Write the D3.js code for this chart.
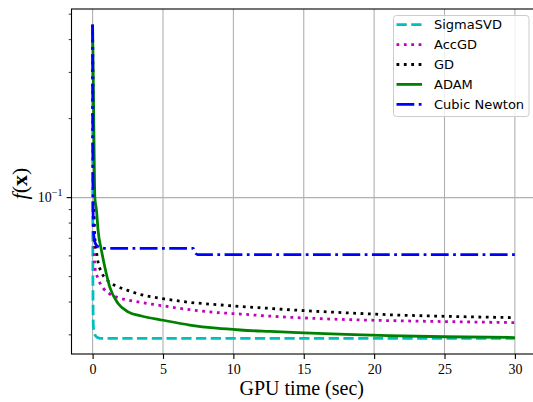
<!DOCTYPE html>
<html>
<head>
<meta charset="utf-8">
<script src="https://cdn.jsdelivr.net/npm/d3@7"></script>
<style>
  html, body { margin: 0; padding: 0; background: #fff; overflow: hidden; }
  svg { display: block; }
</style>
</head>
<body>
<div id="chart"></div>
<script>
// Objective value f(x) against GPU time (seconds) for each solver.
const sigmaTime = [0, 0.02, 0.05, 0.1, 0.2, 0.35, 0.55, 5, 10, 15, 20, 25, 30];
const sigmaVals = [0.456, 0.05, 0.0325, 0.0308, 0.0298, 0.0293, 0.0291, 0.0291, 0.0291, 0.0291, 0.0291, 0.0291, 0.0291];

const accTime = [0, 0.03, 0.08, 0.16, 0.39, 0.75, 1.2, 1.8, 2.5, 3.5, 5, 6.9, 8.8, 10.5, 12.4, 15, 18, 21, 25, 30];
const accVals = [0.456, 0.15, 0.08, 0.0543, 0.0491, 0.0452, 0.0430, 0.0416, 0.0407, 0.0398, 0.0387, 0.0374, 0.0365, 0.0360, 0.0354, 0.0348, 0.0343, 0.0340, 0.0337, 0.0334];

const gdTime = [0, 0.05, 0.1, 0.16, 0.28, 0.39, 0.63, 1.1, 1.7, 2.5, 3.5, 5, 6.9, 8.8, 10.5, 12.4, 15, 18, 21, 25, 30];
const gdVals = [0.456, 0.15, 0.09, 0.0706, 0.0619, 0.0567, 0.0520, 0.0481, 0.0460, 0.0443, 0.0426, 0.0412, 0.0399, 0.0391, 0.0385, 0.0379, 0.0371, 0.0364, 0.0358, 0.0353, 0.0349];

const adamTime = [0, 0.08, 0.16, 0.28, 0.39, 0.63, 0.87, 1.22, 1.81, 2.52, 3.47, 5, 6.9, 8.8, 10.5, 12.6, 15, 18, 21, 25, 30];
const adamVals = [0.456, 0.2, 0.1, 0.0891, 0.0748, 0.0629, 0.0543, 0.0456, 0.0395, 0.0367, 0.0354, 0.0341, 0.0327, 0.0318, 0.0313, 0.0309, 0.0305, 0.0301, 0.0298, 0.0295, 0.0293];

const newtonTime = [0, 0.03, 0.08, 0.15, 0.3, 0.6, 1, 4, 7.15, 7.3, 7.45, 15, 30];
const newtonVals = [0.456, 0.09, 0.072, 0.068, 0.0655, 0.0644, 0.0641, 0.0641, 0.0641, 0.0615, 0.0607, 0.0607, 0.0607];

const seriesNames = ["SigmaSVD", "AccGD", "GD", "ADAM", "Cubic Newton"];
const xTickValues = [0, 5, 10, 15, 20, 25, 30];

const W = 533, H = 402;
const margin = { left: 71.5, top: 9, right: 536, bottom: 354 };
const LW = 2.78;

const series = [
  { name: seriesNames[0], t: sigmaTime, v: sigmaVals, color: "#00bfbf", dash: [3.7, 1.6] },
  { name: seriesNames[1], t: accTime, v: accVals, color: "#bf00bf", dash: [1, 1.65] },
  { name: seriesNames[2], t: gdTime, v: gdVals, color: "#000000", dash: [1, 1.65] },
  { name: seriesNames[3], t: adamTime, v: adamVals, color: "#008000", dash: null },
  { name: seriesNames[4], t: newtonTime, v: newtonVals, color: "#0000ff", dash: [6.4, 1.6, 1, 1.6] }
];
const dashStr = d => d ? d.map(x => (x * LW).toFixed(2)).join(",") : null;

// Domains with 5% padding (log space for y).
const tMax = d3.max(series, s => d3.max(s.t)), tMin = 0;
const xPad = (tMax - tMin) * 0.05;
const x = d3.scaleLinear().domain([tMin - xPad, tMax + xPad]).range([margin.left, margin.right]);

const lo = Math.log10(d3.min(series, s => d3.min(s.v)));
const hi = Math.log10(d3.max(series, s => d3.max(s.v)));
const yPad = (hi - lo) * 0.05;
const y = d3.scaleLog().domain([10 ** (lo - yPad), 10 ** (hi + yPad)]).range([margin.bottom, margin.top]);

const svg = d3.select("#chart").append("svg").attr("width", W).attr("height", H);
const serif = "'Liberation Serif', 'Times New Roman', serif";

// Grid lines
const grid = svg.append("g").attr("stroke", "#b0b0b0").attr("stroke-width", 1.1);
xTickValues.forEach(t => {
  grid.append("line").attr("x1", x(t)).attr("x2", x(t)).attr("y1", margin.top).attr("y2", margin.bottom);
});
grid.append("line").attr("x1", margin.left).attr("x2", margin.right).attr("y1", y(0.1)).attr("y2", y(0.1));

// Clip for data lines
svg.append("clipPath").attr("id", "plotclip").append("rect")
  .attr("x", margin.left).attr("y", margin.top)
  .attr("width", margin.right - margin.left).attr("height", margin.bottom - margin.top);

const line = d3.line().x(d => x(d[0])).y(d => y(d[1])).curve(d3.curveMonotoneX);
const plot = svg.append("g").attr("clip-path", "url(#plotclip)");
series.forEach(s => {
  const pts = s.t.map((t, i) => [t, s.v[i]]);
  plot.append("path").datum(pts).attr("d", line)
    .attr("fill", "none").attr("stroke", s.color).attr("stroke-width", LW)
    .attr("stroke-dasharray", dashStr(s.dash)).attr("stroke-linecap", "butt")
    .attr("stroke-linejoin", "round");
});

// Axes
const xAxis = d3.axisBottom(x).tickValues(xTickValues).tickSize(4.9).tickPadding(4.9).tickFormat(d3.format("d"));
const gx = svg.append("g").attr("transform", `translate(0,${margin.bottom})`).call(xAxis);
gx.select(".domain").remove();
gx.selectAll("line").attr("stroke", "#000").attr("stroke-width", 1.1);
gx.selectAll("text").attr("font-family", serif).attr("font-size", 14).attr("fill", "#000");

// Y ticks: one labelled decade plus unlabelled minor ticks
const minorVals = [0.03, 0.04, 0.05, 0.06, 0.07, 0.08, 0.09, 0.2, 0.3, 0.4, 0.5];
const gy = svg.append("g");
minorVals.filter(v => y(v) >= margin.top - 0.5 && y(v) <= margin.bottom).forEach(v => {
  gy.append("line").attr("x1", margin.left - 2.8).attr("x2", margin.left)
    .attr("y1", y(v)).attr("y2", y(v)).attr("stroke", "#000").attr("stroke-width", 0.8);
});
gy.append("line").attr("x1", margin.left - 4.9).attr("x2", margin.left)
  .attr("y1", y(0.1)).attr("y2", y(0.1)).attr("stroke", "#000").attr("stroke-width", 1.1);
const yl = gy.append("text").attr("x", margin.left - 9).attr("y", y(0.1) + 4.5)
  .attr("text-anchor", "end").attr("font-family", serif).attr("font-size", 14).attr("fill", "#000");
yl.append("tspan").text("10");
yl.append("tspan").attr("dy", -6).attr("font-size", 10).text("\u22121");

// Spines
svg.append("rect").attr("x", margin.left).attr("y", margin.top)
  .attr("width", margin.right - margin.left).attr("height", margin.bottom - margin.top)
  .attr("fill", "none").attr("stroke", "#000").attr("stroke-width", 1.1);

// Axis labels
svg.append("text").attr("x", (margin.left + margin.right) / 2 - 2).attr("y", 395)
  .attr("text-anchor", "middle").attr("font-family", serif).attr("font-size", 20).attr("fill", "#000")
  .text("GPU time (sec)");

const ylab = svg.append("text")
  .attr("transform", `translate(27,${(margin.top + margin.bottom) / 2 + 2}) rotate(-90)`)
  .attr("text-anchor", "middle").attr("font-family", serif).attr("font-size", 22).attr("fill", "#000");
ylab.append("tspan").attr("font-style", "italic").text("f");
ylab.append("tspan").text("(");
ylab.append("tspan").attr("font-weight", "bold").text("x");
ylab.append("tspan").text(")");

// Legend
const lg = svg.append("g").attr("font-family", "'DejaVu Sans', sans-serif").attr("font-size", 13);
lg.append("rect").attr("x", 393.5).attr("y", 15.5).attr("width", 135.5).attr("height", 101)
  .attr("rx", 3).attr("fill", "#fff").attr("fill-opacity", 0.8)
  .attr("stroke", "#cccccc").attr("stroke-width", 1);
series.forEach((s, i) => {
  const cy = 24.7 + i * 19.9;
  lg.append("line").attr("x1", 396.5).attr("x2", 422).attr("y1", cy).attr("y2", cy)
    .attr("stroke", s.color).attr("stroke-width", LW).attr("stroke-dasharray", dashStr(s.dash));
  lg.append("text").attr("x", 434).attr("y", cy + 4.7).attr("fill", "#000").text(s.name);
});
</script>
</body>
</html>
